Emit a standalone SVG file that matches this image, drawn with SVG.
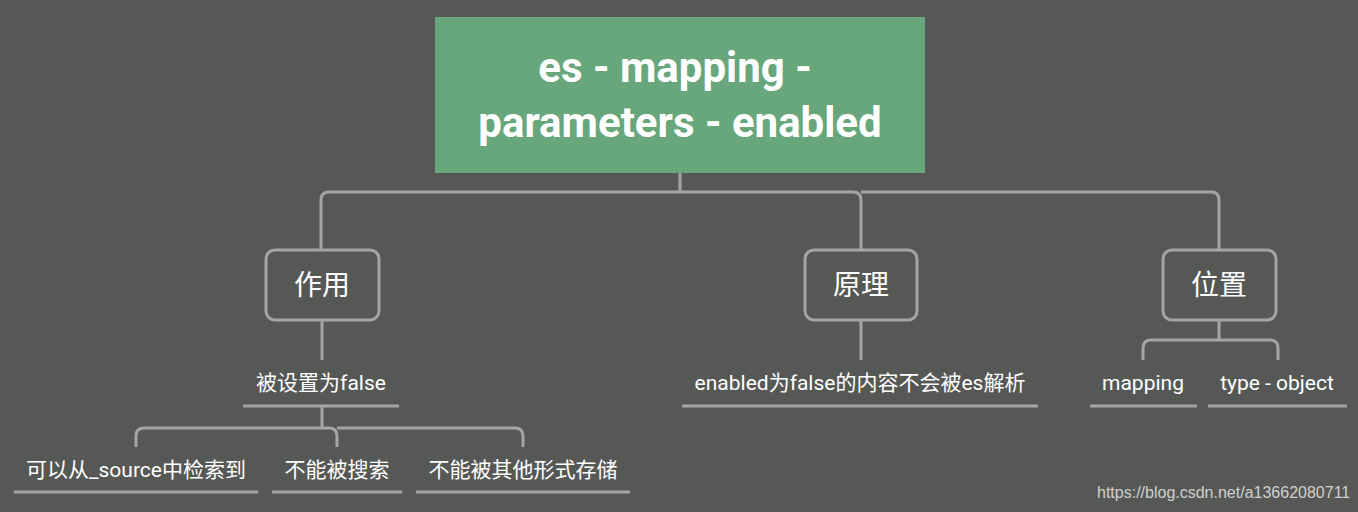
<svg xmlns="http://www.w3.org/2000/svg" width="1358" height="512" viewBox="0 0 1358 512">
<style>
.bg{fill:#565855}
.c{fill:none;stroke:#a3a5a2;stroke-width:3}
.ul{stroke:#a3a5a2;stroke-width:3}
.box{fill:#565855;stroke:#a3a5a2;stroke-width:3}
.t{font-family:Roboto,"Noto Sans CJK SC",sans-serif;fill:#ffffff;text-anchor:middle}
.root{font-size:42px;font-weight:bold}
.l1{font-size:28px}
.l2{font-size:21px}
.wm{font-family:"Liberation Sans",Arial,sans-serif;font-size:16px;fill:#cfd0cd}
</style>
<rect class="bg" x="0" y="0" width="1358" height="512"/>
<g id="connectors">
<path class="c" d="M680,173 V192 H329 Q321,192 321,200 V249"/>
<path class="c" d="M680,192 H853 Q861,192 861,200 V249"/>
<path class="c" d="M861,192 H1211 Q1219,192 1219,200 V249"/>
<path class="c" d="M322,320 V360"/>
<path class="c" d="M861,320 V360"/>
<path class="c" d="M1219,320 V340 H1151 Q1143,340 1143,348 V360"/>
<path class="c" d="M1219,340 H1270 Q1278,340 1278,348 V360"/>
<path class="c" d="M322,406 V428 H144 Q136,428 136,436 V447"/>
<path class="c" d="M322,428 H329 Q337,428 337,436 V447"/>
<path class="c" d="M337,428 H515 Q523,428 523,436 V447"/>
</g>
<g id="root">
<rect x="435" y="17" width="490" height="156" fill="#68a67c"/>
<text class="t root" x="675" y="82">es - mapping -</text>
<text class="t root" x="680" y="137">parameters - enabled</text>
</g>
<g id="zuoyong">
<rect class="box" x="266" y="250" width="113" height="70" rx="9"/>
<text class="t l1" x="322" y="295">作用</text>
</g>
<g id="yuanli">
<rect class="box" x="805" y="250" width="112" height="70" rx="9"/>
<text class="t l1" x="861" y="295">原理</text>
</g>
<g id="weizhi">
<rect class="box" x="1163" y="250" width="113" height="70" rx="9"/>
<text class="t l1" x="1219" y="295">位置</text>
</g>
<g id="false">
<text class="t l2" x="321" y="390">被设置为false</text>
<line class="ul" x1="243" y1="406" x2="399" y2="406"/>
</g>
<g id="source">
<text class="t l2" x="136" y="477">可以从_source中检索到</text>
<line class="ul" x1="14" y1="492" x2="258" y2="492"/>
</g>
<g id="nosearch">
<text class="t l2" x="337" y="477">不能被搜索</text>
<line class="ul" x1="272" y1="492" x2="402" y2="492"/>
</g>
<g id="nostore">
<text class="t l2" x="523" y="477">不能被其他形式存储</text>
<line class="ul" x1="416" y1="492" x2="630" y2="492"/>
</g>
<g id="parse">
<text class="t l2" x="860" y="390">enabled为false的内容不会被es解析</text>
<line class="ul" x1="682" y1="406" x2="1038" y2="406"/>
</g>
<g id="mapping">
<text class="t l2" x="1143" y="390">mapping</text>
<line class="ul" x1="1090" y1="406" x2="1197" y2="406"/>
</g>
<g id="typeobj">
<text class="t l2" x="1277" y="390">type - object</text>
<line class="ul" x1="1208" y1="406" x2="1347" y2="406"/>
</g>
<text class="wm" x="1097" y="498">https://blog.csdn.net/a13662080711</text>
</svg>
